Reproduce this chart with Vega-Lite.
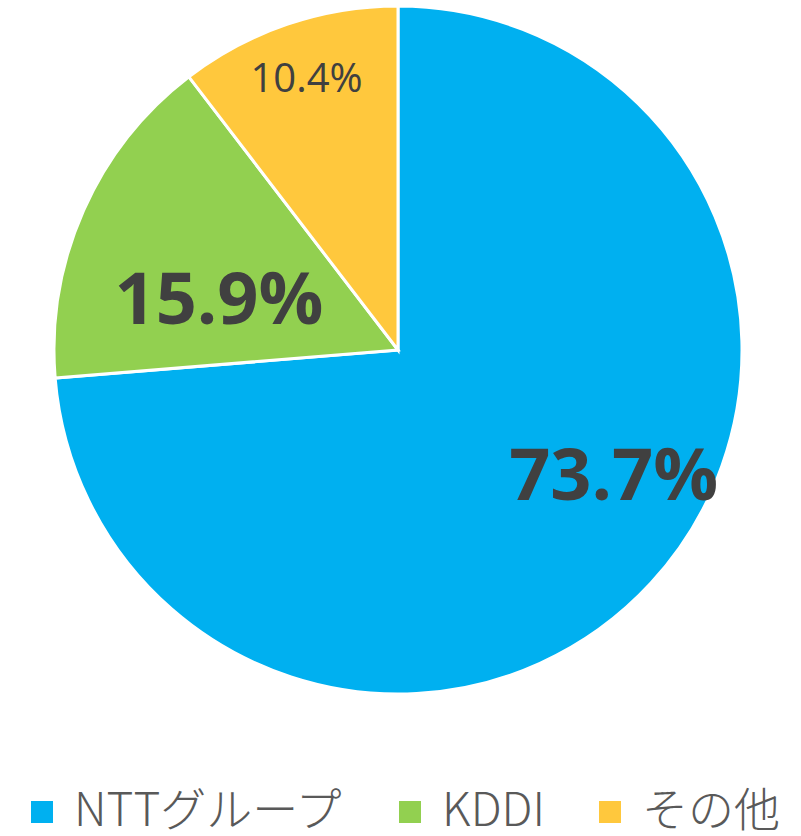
{
  "$schema": "https://vega.github.io/schema/vega-lite/v6.json",
  "width": 796,
  "height": 700,
  "padding": 0,
  "background": "white",
  "config": {"view": {"stroke": null}},
  "data": {
    "values": [
      {"company": "NTTグループ", "share": 73.7, "label": "73.7%", "rank": 1},
      {"company": "KDDI", "share": 15.9, "label": "15.9%", "rank": 2},
      {"company": "その他", "share": 10.4, "label": "10.4%", "rank": 3}
    ]
  },
  "encoding": {
    "theta": {"field": "share", "type": "quantitative", "stack": true},
    "order": {"field": "rank", "type": "quantitative"}
  },
  "layer": [
    {
      "mark": {"type": "arc", "outerRadius": 344, "stroke": "white", "strokeWidth": 3},
      "encoding": {
        "color": {
          "field": "company",
          "type": "nominal",
          "scale": {"domain": ["NTTグループ", "KDDI", "その他"], "range": ["#00B0F0", "#92D050", "#FFC83D"]},
          "legend": {
            "title": null,
            "orient": "none",
            "direction": "horizontal",
            "legendX": 19,
            "legendY": 789,
            "symbolType": "square",
            "symbolSize": 484,
            "symbolStrokeWidth": 0,
            "symbolOpacity": 1,
            "labelFontSize": 46,
            "labelFont": "Noto Sans CJK JP",
            "labelFontWeight": 300,
            "labelColor": "#595959",
            "labelOffset": 9,
            "columnPadding": 42,
            "labelLimit": 400
          }
        }
      }
    },
    {
      "mark": {"type": "text", "radius": 251, "dx": 31, "dy": -42, "fontSize": 72, "fontWeight": "bold", "font": "Open Sans", "color": "#404040", "align": "center", "baseline": "middle"},
      "encoding": {
        "text": {"condition": {"test": "datum.company === 'NTTグループ'", "field": "label"}, "value": ""}
      }
    },
    {
      "mark": {"type": "text", "radius": 185, "dx": -10, "dy": 27, "fontSize": 72, "fontWeight": "bold", "font": "Open Sans", "color": "#404040", "align": "center", "baseline": "middle"},
      "encoding": {
        "text": {"condition": {"test": "datum.company === 'KDDI'", "field": "label"}, "value": ""}
      }
    },
    {
      "mark": {"type": "text", "radius": 285, "fontSize": 40, "font": "Open Sans", "color": "#404040", "align": "center", "baseline": "middle"},
      "encoding": {
        "text": {"condition": {"test": "datum.company === 'その他'", "field": "label"}, "value": ""}
      }
    }
  ]
}
